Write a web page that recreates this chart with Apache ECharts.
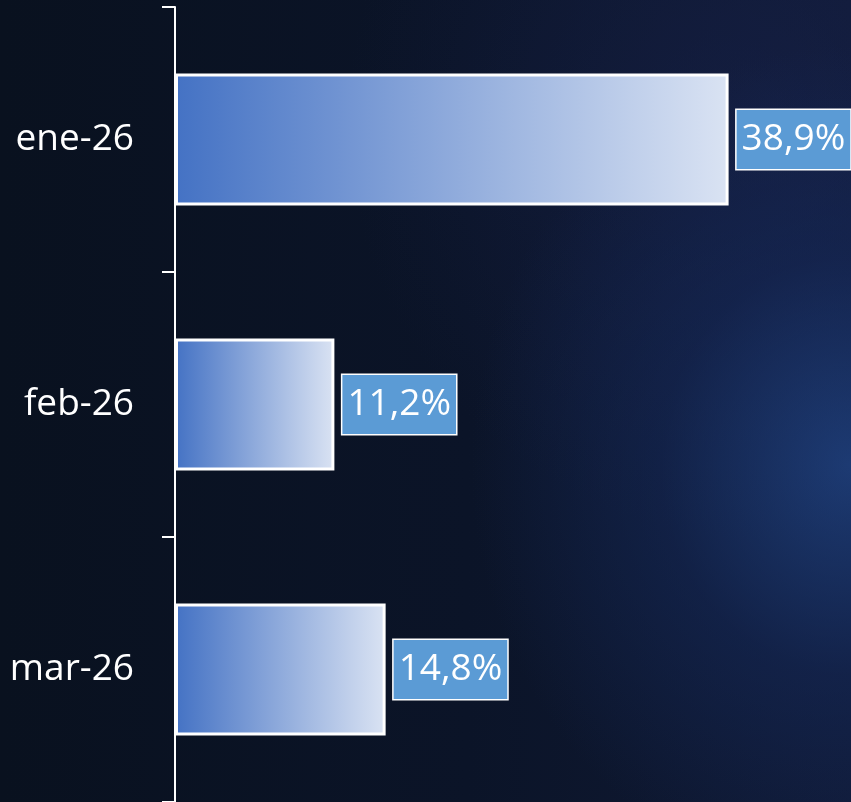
<!DOCTYPE html>
<html>
<head>
<meta charset="utf-8">
<script src="https://cdn.jsdelivr.net/npm/echarts@6/dist/echarts.min.js"></script>
<style>
html, body {
  margin: 0;
  padding: 0;
  width: 851px;
  height: 802px;
  overflow: hidden;
  background: #0a1226;
}
#chart {
  width: 851px;
  height: 802px;
  background:
    radial-gradient(ellipse 380px 420px at 100% 58%, rgba(34,72,140,0.7) 0%, rgba(22,44,96,0.45) 50%, rgba(10,18,38,0) 100%),
    radial-gradient(ellipse 420px 420px at 90% 15%, rgba(24,34,76,0.55) 0%, rgba(10,18,38,0) 100%),
    linear-gradient(90deg, #09111f 0%, #0b1428 55%, #101a36 100%);
}
</style>
</head>
<body>
<div id="chart"></div>
<script>
// datos
var meses = ['ene-26', 'feb-26', 'mar-26'];
var valores = [38.9, 11.2, 14.8];

var chart = echarts.init(document.getElementById('chart'));

chart.setOption({
  backgroundColor: 'transparent',
  animation: false,
  grid: {
    left: 175,
    right: 0,
    top: 7,
    bottom: -3
  },
  xAxis: {
    type: 'value',
    min: 0,
    max: 47.5,
    show: false
  },
  yAxis: {
    type: 'category',
    data: meses,
    inverse: true,
    axisLine: { show: true, lineStyle: { color: '#ffffff', width: 2 } },
    axisTick: { show: true, length: 13, lineStyle: { color: '#ffffff', width: 2 } },
    axisLabel: {
      color: '#ffffff',
      fontSize: 37,
      fontFamily: 'Open Sans',
      margin: 41
    },
    splitLine: { show: false }
  },
  series: [{
    type: 'bar',
    data: valores,
    barWidth: 132,
    itemStyle: {
      color: new echarts.graphic.LinearGradient(0, 0, 1, 0, [
        { offset: 0, color: '#4472c4' },
        { offset: 1, color: '#dae3f3' }
      ]),
      borderColor: '#ffffff',
      borderWidth: 3
    },
    label: {
      show: true,
      position: 'right',
      distance: 8,
      formatter: function (p) {
        return p.value.toFixed(1).replace('.', ',') + '%';
      },
      color: '#ffffff',
      fontSize: 37,
      fontFamily: 'Open Sans',
      lineHeight: 43,
      backgroundColor: '#5b9bd5',
      borderColor: '#ffffff',
      borderWidth: 1.5,
      padding: [8, 5, 8, 5]
    }
  }]
});
</script>
</body>
</html>
